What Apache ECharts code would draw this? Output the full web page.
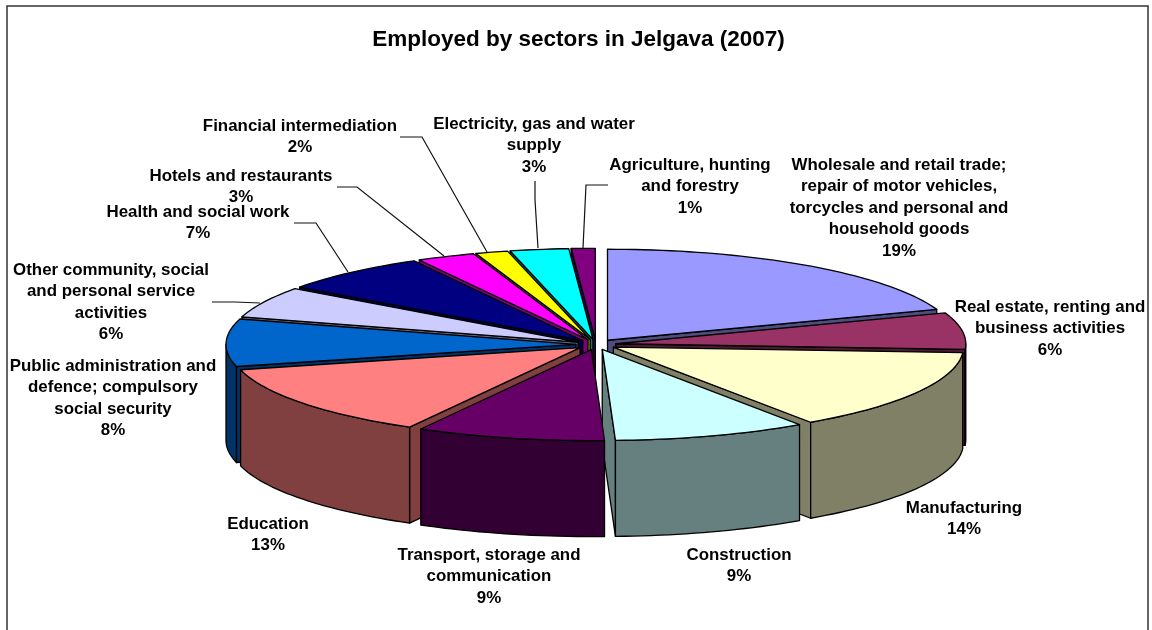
<!DOCTYPE html>
<html>
<head>
<meta charset="utf-8">
<style>html,body{margin:0;padding:0;background:#fff}#c{width:1152px;height:630px}</style>
<script src="https://cdn.jsdelivr.net/npm/echarts@6/dist/echarts.min.js"></script>
</head>
<body>
<div id="c"></div>
<script>
const titleText = 'Employed by sectors in Jelgava (2007)';
const sectors = [
  'Wholesale and retail trade;\nrepair of motor vehicles,\ntorcycles and personal and\nhousehold goods',
  'Real estate, renting and\nbusiness activities',
  'Manufacturing',
  'Construction',
  'Transport, storage and\ncommunication',
  'Education',
  'Public administration and\ndefence; compulsory\nsocial security',
  'Other community, social\nand personal service\nactivities',
  'Health and social work',
  'Hotels and restaurants',
  'Financial intermediation',
  'Electricity, gas and water\nsupply',
  'Agriculture, hunting\nand forestry'
];
const shares = [19.49, 6.49, 14.49, 8.93, 8.7, 13.0, 8.4, 5.5, 7.0, 2.7, 1.5, 2.7, 1.1];
const topColors = ['#9999FF','#993366','#FFFFCC','#CCFFFF','#660066','#FF8080','#0066CC','#CCCCFF','#000080','#FF00FF','#FFFF00','#00FFFF','#800080'];
const sideColors = ['#4D4D80','#4D1A33','#808066','#668080','#330033','#804040','#003366','#666680','#000040','#800080','#808000','#008080','#400040'];
// label layout: centre x, centre y of first line
const labelAnchors = [[899,165],[1050,307],[964,508],[739,555],[489,555],[268,524],[113,366],[111,270],[198,212],[241,176],[300,126],[534,124],[690,165]];
const leaders = [null,null,null,null,null,null,null,
  [[212,302],[235,302],[260,303]],
  [[294,223],[316,223],[348,272]],
  [[337,187],[357,187],[444,256]],
  [[400,137],[422,137],[487,252]],
  [[535,181],[535,200],[538,248]],
  [[608,185],[586,185],[583,248]]];

const CX = 596, CY = 344.5, RX = 350, RY = 91, DEPTH = 96, EXPLODE = 20;
const LINE_H = 21.6, LABEL_FONT = 16.9;
const total = shares.reduce((a, b) => a + b, 0);
const rad = d => d * Math.PI / 180;
const spans = [];
shares.reduce((acc, v) => {
  const end = acc + v / total * 360;
  spans.push([acc, end]);
  return end;
}, 0);
const midOf = i => (spans[i][0] + spans[i][1]) / 2;
const order = shares.map((_, i) => i).sort((a, b) => Math.cos(rad(midOf(b))) - Math.cos(rad(midOf(a))));

function apexOf(i) {
  const m = rad(midOf(i));
  return [CX + EXPLODE * Math.sin(m), CY - EXPLODE * (RY / RX) * Math.cos(m)];
}
function rimPoint(a, t) {
  return [a[0] + RX * Math.sin(rad(t)), a[1] - RY * Math.cos(rad(t))];
}
function arc(a, from, to) {
  const n = Math.max(2, Math.ceil(Math.abs(to - from) / 1.5));
  const pts = [];
  for (let k = 0; k <= n; k++) pts.push(rimPoint(a, from + (to - from) * k / n));
  return pts;
}
const down = p => [p[0], p[1] + DEPTH];
const edge = {stroke: '#000', lineWidth: 1.3, lineJoin: 'round'};

function renderSlice(params, api) {
  const i = api.value(0);
  const [t1, t2] = spans[i];
  const a = apexOf(i);
  const kids = [];
  const poly = (points, fill) => kids.push({type: 'polygon', shape: {points}, style: Object.assign({fill}, edge)});
  // cut faces that look towards the viewer
  if (Math.sin(rad(t1)) < 0) {
    const r = rimPoint(a, t1);
    poly([a, r, down(r), down(a)], sideColors[i]);
  }
  if (Math.sin(rad(t2)) > 0) {
    const r = rimPoint(a, t2);
    poly([a, r, down(r), down(a)], sideColors[i]);
  }
  // outer wall, front half only
  const w1 = Math.max(t1, 90), w2 = Math.min(t2, 270);
  if (w2 > w1) {
    const rim = arc(a, w1, w2);
    poly(rim.concat(rim.slice().reverse().map(down)), sideColors[i]);
  }
  // top face
  poly([a].concat(arc(a, t1, t2)), topColors[i]);
  return {type: 'group', children: kids};
}

function renderLabel(params, api) {
  const i = api.value(0);
  const kids = [];
  if (leaders[i]) {
    kids.push({type: 'polyline', shape: {points: leaders[i]}, style: {stroke: '#111', lineWidth: 1.2, fill: null}});
  }
  const [x, y] = labelAnchors[i];
  kids.push({
    type: 'text',
    x: x, y: y - LINE_H / 2,
    style: {
      text: sectors[i] + '\n' + Math.round(shares[i]) + '%',
      fill: '#000',
      font: 'bold ' + LABEL_FONT + 'px "Liberation Sans", Arial, sans-serif',
      lineHeight: LINE_H,
      align: 'center',
      verticalAlign: 'top'
    }
  });
  return {type: 'group', children: kids};
}

const chart = echarts.init(document.getElementById('c'), null, {renderer: 'canvas'});
chart.setOption({
  animation: false,
  backgroundColor: '#fff',
  title: {
    text: titleText,
    left: 573.5, top: 23, textAlign: 'center',
    textStyle: {fontFamily: '"Liberation Sans", Arial, sans-serif', fontWeight: 'bold', fontSize: 22.5, color: '#000'}
  },
  graphic: [{
    type: 'rect', silent: true, z: -1,
    shape: {x: 7, y: 6, width: 1141, height: 720},
    style: {fill: null, stroke: '#333', lineWidth: 1.5}
  }],
  series: [
    {type: 'custom', coordinateSystem: 'none', silent: true, clip: false, z: 2,
     data: order.map(i => [i]), renderItem: renderSlice},
    {type: 'custom', coordinateSystem: 'none', silent: true, clip: false, z: 3,
     data: shares.map((_, i) => [i]), renderItem: renderLabel}
  ]
});
</script>
</body>
</html>
